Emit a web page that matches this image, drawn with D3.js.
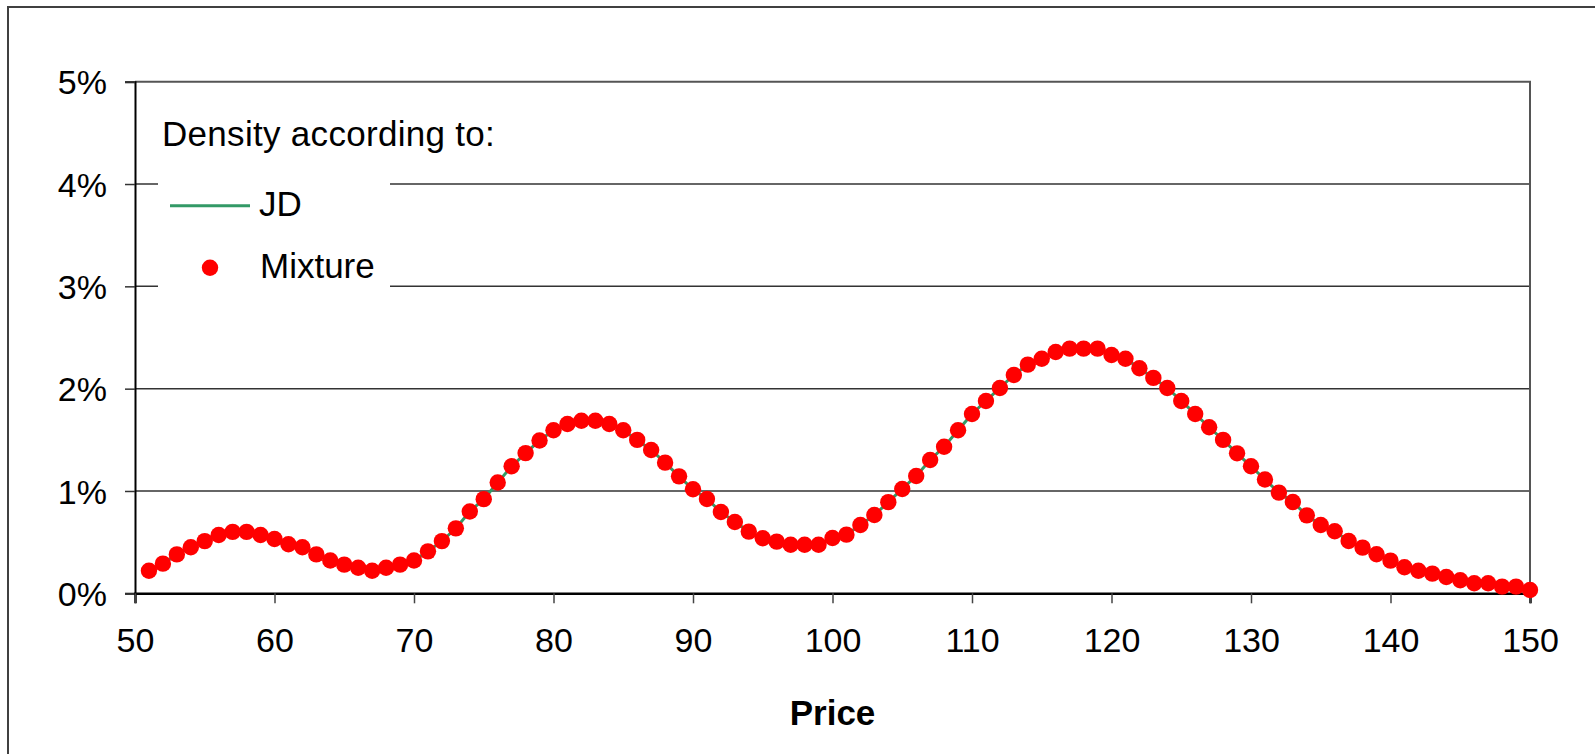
<!DOCTYPE html>
<html>
<head>
<meta charset="utf-8">
<script src="https://cdn.jsdelivr.net/npm/d3@7"></script>
<style>
  html, body { margin: 0; padding: 0; background: #fff; }
  svg { display: block; }
  text { font-family: "Liberation Sans", Arial, sans-serif; fill: #000; }
</style>
</head>
<body>
<svg id="chart" width="1595" height="754"></svg>
<script>
// ---- data ----
const prices = [51,52,53,54,55,56,57,58,59,60,61,62,63,64,65,66,67,68,69,70,
  71,72,73,74,75,76,77,78,79,80,81,82,83,84,85,86,87,88,89,90,
  91,92,93,94,95,96,97,98,99,100,101,102,103,104,105,106,107,108,109,110,
  111,112,113,114,115,116,117,118,119,120,121,122,123,124,125,126,127,128,129,130,
  131,132,133,134,135,136,137,138,139,140,141,142,143,144,145,146,147,148,149,150];
// Mixture density (%)
const mixture = [0.22,0.29,0.38,0.45,0.51,0.57,0.60,0.60,0.57,0.53,
  0.48,0.45,0.38,0.32,0.28,0.25,0.22,0.25,0.28,0.32,
  0.41,0.51,0.635,0.80,0.92,1.083,1.241,1.37,1.493,1.593,
  1.655,1.687,1.687,1.655,1.593,1.499,1.401,1.277,1.143,1.017,
  0.922,0.795,0.697,0.603,0.538,0.505,0.475,0.475,0.475,0.541,
  0.573,0.668,0.765,0.891,1.02,1.147,1.303,1.433,1.593,1.753,
  1.88,2.007,2.134,2.235,2.293,2.359,2.391,2.391,2.391,2.329,
  2.293,2.199,2.105,2.007,1.88,1.753,1.623,1.499,1.368,1.241,
  1.112,0.984,0.892,0.762,0.668,0.606,0.511,0.446,0.381,0.319,
  0.254,0.221,0.192,0.159,0.127,0.098,0.098,0.065,0.065,0.032];
// JD density (%) – visually identical to the mixture
const jd = mixture;
const xTicks = [50,60,70,80,90,100,110,120,130,140,150];
const yTicks = [0,1,2,3,4,5];
const legendTitle = "Density according to:";
const seriesNames = ["JD", "Mixture"];
const xTitle = "Price";

// ---- layout ----
const svg = d3.select("#chart");
const pL = 135, pR = 1530, pT = 81.7, pB = 593.3;
const x = d3.scaleLinear().domain([50,150]).range([pL,pR]);
const y = d3.scaleLinear().domain([0,5]).range([pB,pT]);
const green = "#339966", red = "#ff0000";

// outer frame
svg.append("rect").attr("x",8).attr("y",7).attr("width",1600).attr("height",800)
  .attr("fill","none").attr("stroke","#404040").attr("stroke-width",2);

// gridlines
svg.append("g").selectAll("line").data(yTicks.filter(d=>d>0 && d<5)).join("line")
  .attr("x1",pL).attr("x2",pR).attr("y1",d=>y(d)).attr("y2",d=>y(d))
  .attr("stroke","#333").attr("stroke-width",1.5);
// top & right plot border
svg.append("path").attr("d",`M${pL},${y(5)}H${pR}V${pB}`)
  .attr("fill","none").attr("stroke","#555").attr("stroke-width",2);

// y axis
const yAxis = svg.append("g").attr("transform",`translate(${pL},0)`)
  .call(d3.axisLeft(y).tickValues(yTicks).tickSize(10).tickPadding(18).tickFormat(d=>d+"%"));
yAxis.select(".domain").attr("stroke","#000").attr("stroke-width",2);
yAxis.selectAll(".tick line").attr("stroke","#333").attr("stroke-width",1.5);
yAxis.selectAll(".tick text").style("font-size","34px").attr("dy","0.36em");

// x axis
const xAxis = svg.append("g").attr("transform",`translate(0,${pB})`)
  .call(d3.axisBottom(x).tickValues(xTicks).tickSize(10).tickPadding(25));
xAxis.select(".domain").attr("stroke","#000").attr("stroke-width",2.5);
xAxis.selectAll(".tick line").attr("stroke","#444").attr("stroke-width",1.5);
xAxis.selectAll(".tick text").style("font-size","34px").attr("dy","0.71em");

// x title
svg.append("text").attr("x",(pL+pR)/2).attr("y",725).attr("text-anchor","middle")
  .style("font-size","35px").style("font-weight","bold").text(xTitle);

// JD line
const line = d3.line().x((d,i)=>x(prices[i])).y(d=>y(d));
svg.append("path").datum(jd).attr("d",line).attr("fill","none")
  .attr("stroke",green).attr("stroke-width",3);

// Mixture dots
svg.append("g").selectAll("circle").data(mixture).join("circle")
  .attr("cx",(d,i)=>x(prices[i])).attr("cy",d=>y(d)).attr("r",8.2).attr("fill",red);

// legend
const lg = svg.append("g");
lg.append("rect").attr("x",158).attr("y",95).attr("width",232).attr("height",205).attr("fill","#fff");
lg.append("text").attr("x",162).attr("y",146).style("font-size","35px")
  .style("letter-spacing","0.3px").text(legendTitle);
lg.append("line").attr("x1",170).attr("x2",250).attr("y1",205.7).attr("y2",205.7)
  .attr("stroke",green).attr("stroke-width",3);
lg.append("text").attr("x",259).attr("y",216).style("font-size","35px").text(seriesNames[0]);
lg.append("circle").attr("cx",210).attr("cy",267.7).attr("r",8.2).attr("fill",red);
lg.append("text").attr("x",260).attr("y",278).style("font-size","35px").text(seriesNames[1]);
</script>
</body>
</html>
